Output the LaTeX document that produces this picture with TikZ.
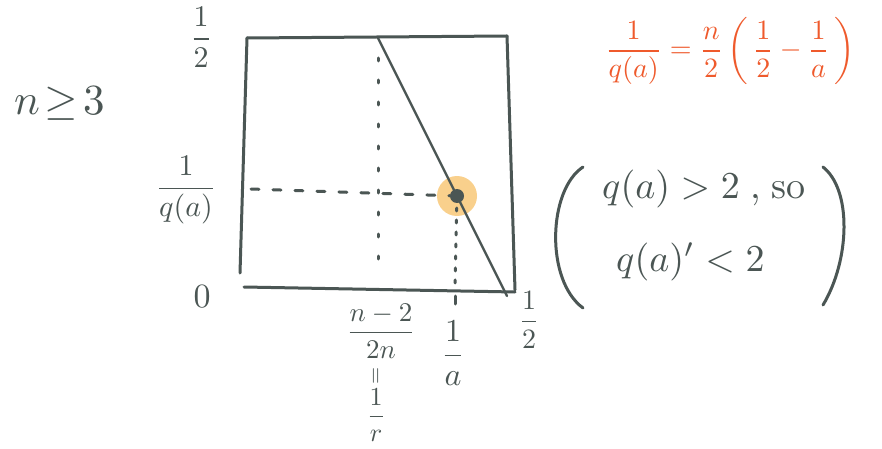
\documentclass[tikz,border=0pt]{standalone}
\usepackage{amsmath}
\begin{document}
\begin{tikzpicture}[x=1pt,y=-1pt,
  ink/.style={draw=inkc, line width=3pt, line cap=round, line join=round},
  dotv/.style={ink, dash pattern=on 3pt off 19pt},
  dashh/.style={ink, dash pattern=on 8pt off 14pt},
  lab/.style={text=inkc, inner sep=0pt},
  eqn/.style={text=accent, inner sep=0pt}]
\definecolor{inkc}{HTML}{4B5654}
\definecolor{accent}{HTML}{EF5A2C}
\definecolor{halo}{HTML}{F9D08C}
\useasboundingbox[fill=white] (0,0) rectangle (882,449);

% box corners
\coordinate (tl) at (247,38);
\coordinate (tr) at (507,36);
\coordinate (lb) at (240,273);
\coordinate (bl) at (244,287);
\coordinate (br) at (515,292);
\coordinate (rb) at (515,290);
% diagonal
\coordinate (dtop) at (378,38);
\coordinate (dbot) at (507,296);
% dotted guides
\coordinate (vtop) at (378,58);
\coordinate (vbot) at (378,270);
\coordinate (hl) at (251,189);
\coordinate (abot) at (455,290);
\coordinate (tk1) at (455,296);
\coordinate (tk2) at (455,304);

% point
\node[circle, fill=halo, minimum size=40pt, inner sep=0pt] (halo) at (457,196) {};

\draw[ink] (tl) -- (tr);
\draw[ink] (tl) -- (lb);
\draw[ink] (bl) -- (br);
\draw[ink] (tr) -- (rb);
\draw[ink, line width=2.4pt] (dtop) -- (dbot);
\draw[dotv] (vtop) -- (vbot);
\draw[dashh] (hl) -- (halo.center);
\draw[dotv, dash pattern=on 3pt off 9pt] (halo.center) -- (abot);
\draw[ink] (tk1) -- (tk2);

\node[circle, fill=inkc, minimum size=14pt, inner sep=0pt] (pt) at (457,196) {};

% axis labels
\node[lab] (yhalf) at (201,37) {\scalebox{3}{$\dfrac{1}{2}$}};
\node[lab] (yq) at (186,190) {\scalebox{3}{$\dfrac{1}{q(a)}$}};
\node[lab] (zero) at (202,297) {\scalebox{3.4}{$0$}};
\node[lab] (xr) at (381,331) {\scalebox{2.7}{$\dfrac{n-2}{2n}$}};
\node[lab, rotate=90] (eqv) at (377,376) {\scalebox{2.2}{$=$}};
\node[lab] (xr2) at (376,415) {\scalebox{2.6}{$\dfrac{1}{r}$}};
\node[lab] (xa) at (453,353) {\scalebox{3.2}{$\dfrac{1}{a}$}};
\node[lab] (xhalf) at (529,320) {\scalebox{2.8}{$\dfrac{1}{2}$}};

% n >= 3
\node[lab, anchor=west] (ncond) at (14,104) {\scalebox{4.3}{$n\!\geq\!3$}};

% orange formula
\node[eqn] (formula) at (730,51) {\scalebox{2.8}{$\dfrac{1}{q(a)} = \dfrac{n}{2}\,\biggl(\,\dfrac{1}{2}-\dfrac{1}{a}\,\biggr)$}};

% bracketed remark
\node[lab, anchor=west] (l1) at (602,189) {\scalebox{3.8}{$q(a)>2$\;,\;so}};
\node[lab, anchor=west] (l2) at (616,262) {\scalebox{3.8}{$q(a)'<2$}};
\coordinate (lpt) at (583,167);
\coordinate (lpb) at (583,308);
\coordinate (rpt) at (823,167);
\coordinate (rpb) at (823,305);
\draw[ink] (lpt) .. controls (548,190) and (545,280) .. (lpb);
\draw[ink] (rpt) .. controls (852,190) and (850,260) .. (rpb);
\end{tikzpicture}
\end{document}
